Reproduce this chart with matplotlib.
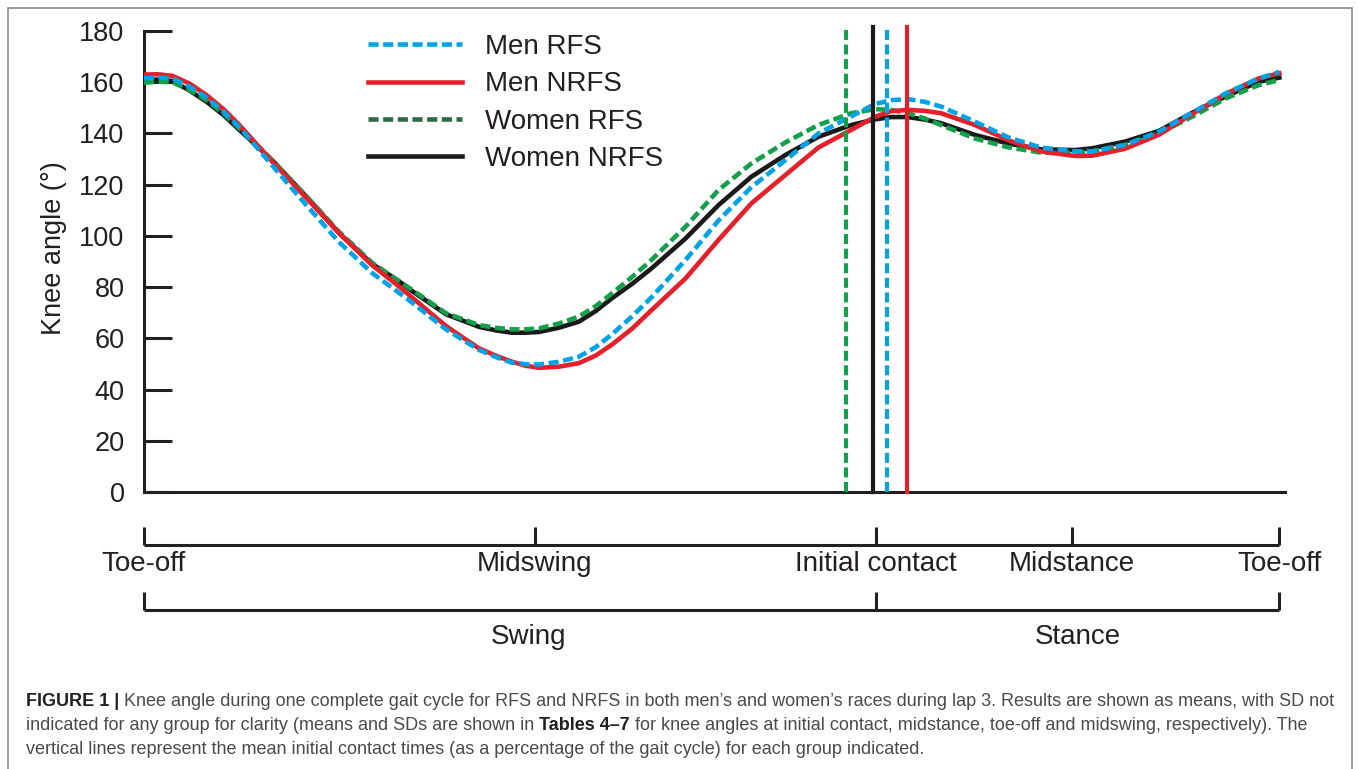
import matplotlib
matplotlib.use("Agg")
import matplotlib.pyplot as plt
from matplotlib.lines import Line2D
from matplotlib.patches import Rectangle
from matplotlib.transforms import blended_transform_factory

plt.rcParams["font.family"] = ["Liberation Sans", "DejaVu Sans"]

# Gait cycle (%) and knee angle (deg)
pct = [0, 1.2, 2.5, 4, 5.5, 7, 8.4, 11.3, 14.3, 17.2, 20.1, 22.4, 23.6,
       26.6, 29.5, 31, 32.4, 33.6, 34.8, 36.5, 38.3, 39.8, 41.2, 43, 44.7,
       47.7, 50.6, 53.5, 56.5, 59.4, 62.3, 64.4, 65.8, 67.3, 68.8, 70.2, 73.2,
       76.1, 79.0, 82.0, 83.5, 86.4, 89.4, 92.3, 95.3, 98.2, 100]

men_rfs = [161.5, 161.8, 161.5, 158.3, 154, 148.5, 142.5, 127.5, 112, 97.5, 85.5, 78, 74,
           63.5, 55.5, 52.7, 50.5, 49.9, 49.8, 50.8, 52.8, 56.6, 61.5, 68.6, 76,
           90.6, 106, 119, 129.6, 140, 146.7, 151.5, 153, 153.4, 152.3, 150.5, 144.6,
           138.5, 134.5, 133, 133, 135.5, 140.7, 148, 155.7, 161.5, 164]
men_nrfs = [163, 163.1, 162.5, 159.5, 155, 149.5, 143.3, 129, 114.8, 101, 88.5, 80.5, 76,
            64.8, 56.1, 53.2, 50.9, 49.3, 48.5, 48.9, 50.3, 53.3, 57.5, 63.8, 71,
            83.4, 98.4, 112.7, 123.8, 134.5, 141.4, 146.5, 148.7, 149.2, 148.8, 147.9, 143.3,
            137.4, 133, 131.2, 131.3, 134, 139.5, 147.5, 155.5, 161.5, 163.5]
women_rfs = [159.8, 160.2, 160, 157, 153, 147.8, 142, 129.5, 115.5, 101.5, 89.5, 82.5, 79,
             69.8, 65.2, 64.1, 63.5, 63.5, 63.9, 65.7, 68.5, 72.6, 77.5, 84, 90.6,
             103.6, 117.9, 128.3, 136.5, 143.3, 147.9, 149.5, 149.2, 147.9, 145.8, 143.3, 138,
             134.6, 132.5, 132.3, 133, 135.5, 140, 146.5, 153.7, 158.9, 160.9]
women_nrfs = [161, 161, 160.5, 156.8, 152.4, 147.2, 141.4, 129.5, 115.3, 101, 89, 82.5, 78.5,
              69.4, 64.5, 63.1, 62.2, 62.2, 62.5, 64.1, 66.5, 70.7, 75.6, 81.3, 87.3,
              99, 112, 123.1, 131.6, 138.7, 143.3, 145.5, 146.4, 146.4, 145.4, 144, 139.4,
              136.1, 133.8, 133.5, 134.2, 136.8, 141, 148, 154.5, 160.2, 161.8]

groups = ["Men RFS", "Men NRFS", "Women RFS", "Women NRFS"]
contact = [65.4, 67.2, 61.8, 64.2]   # mean initial contact (% of cycle)

y_ticks = [0, 20, 40, 60, 80, 100, 120, 140, 160, 180]
phase_pos = [0, 34.4, 64.5, 81.7, 100]
phase_labels = ["Toe-off", "Midswing", "Initial contact", "Midstance", "Toe-off"]
split_pos = [0, 64.5, 100]
split_labels = ["Swing", "Stance"]
split_label_pos = [33.9, 82.25]

INK = "#231f20"
colors = {"Men RFS": "#00a3e6", "Men NRFS": "#e5202a",
          "Women RFS": "#13a04a", "Women NRFS": "#1a1a1a"}
dashed = {"Men RFS": True, "Men NRFS": False, "Women RFS": True, "Women NRFS": False}
series = {"Men RFS": men_rfs, "Men NRFS": men_nrfs,
          "Women RFS": women_rfs, "Women NRFS": women_nrfs}

W, H = 1358, 769
fig = plt.figure(figsize=(W / 100, H / 100), dpi=100)


def fy(py):
    return 1 - py / H


ax = fig.add_axes([144 / W, fy(492), (1285 - 144) / W, (492 - 31) / H])
ax.set_xlim(0, 100.5)
ax.set_ylim(0, 180)

# curves (black at bottom, blue on top)
for z, g in enumerate(["Women NRFS", "Women RFS", "Men NRFS", "Men RFS"]):
    kw = dict(color=colors[g], lw=3.3, zorder=2 + z, solid_joinstyle="round")
    if dashed[g]:
        kw["dashes"] = (2.2, 1.0)
    ax.plot(pct, series[g], **kw)

# initial contact lines
for g, ic in zip(groups, contact):
    kw = dict(color=colors[g], lw=3.0, zorder=8, clip_on=False)
    if dashed[g]:
        kw["dashes"] = (2.4, 1.1)
    ax.axvline(ic, ymin=0, ymax=1.008, **kw)

for s in ["top", "right"]:
    ax.spines[s].set_visible(False)
for s in ["left", "bottom"]:
    ax.spines[s].set_linewidth(2.2)
    ax.spines[s].set_color(INK)
ax.set_xticks([])
ax.set_yticks(y_ticks)
ax.tick_params(axis="y", direction="in", length=20, width=2.2, pad=14,
               labelsize=19.5, colors=INK)

fig.text(54 / W, fy(248), "Knee angle (°)", rotation=90, ha="center",
         va="center", fontsize=19.5, color=INK)

# legend
handles = []
for g in groups:
    c = "#2b6a44" if g == "Women RFS" else colors[g]
    h = Line2D([], [], color=c, lw=3.3)
    if dashed[g]:
        h.set_dashes((2.2, 1.0))
    handles.append(h)
ax.legend(handles, groups, loc="upper left", bbox_to_anchor=(368 / W, fy(34)),
          bbox_transform=fig.transFigure, frameon=False, fontsize=20,
          handlelength=3.4, handletextpad=0.8, labelspacing=0.41,
          borderpad=0, borderaxespad=0, labelcolor=INK)

# gait phase scales below the axis
tr = blended_transform_factory(ax.transData, fig.transFigure)
lk = dict(transform=tr, clip_on=False, color=INK, lw=2.2, solid_capstyle="butt")
ax.plot([phase_pos[0], phase_pos[-1]], [fy(545), fy(545)], **lk)
for p, lab in zip(phase_pos, phase_labels):
    ax.plot([p, p], [fy(527), fy(545)], **lk)
    ax.text(p, fy(564), lab, transform=tr, ha="center", va="center",
            fontsize=20, color=INK)
ax.plot([split_pos[0], split_pos[-1]], [fy(610), fy(610)], **lk)
for p in split_pos:
    ax.plot([p, p], [fy(592), fy(610)], **lk)
for p, lab in zip(split_label_pos, split_labels):
    ax.text(p, fy(637), lab, transform=tr, ha="center", va="center",
            fontsize=20, color=INK)

# outer frame
fig.add_artist(Rectangle((8 / W, -0.02), (1352 - 8) / W, fy(8) + 0.02,
                         transform=fig.transFigure, fill=False,
                         ec="#8c8c8c", lw=1.2))

# caption
CAP_FS = 13.0
rend = fig.canvas.get_renderer()


def caption_line(py, runs):
    x = 26
    for s, bold in runs:
        t = fig.text(x / W, fy(py), s, fontsize=CAP_FS, ha="left", va="baseline",
                     fontweight="bold" if bold else "normal",
                     color=INK if bold else "#4a4a4a")
        x += t.get_window_extent(rend).width


caption_line(706, [("FIGURE 1 |", True),
                   (" Knee angle during one complete gait cycle for RFS and NRFS in both "
                    "men’s and women’s races during lap 3. Results are shown as means, "
                    "with SD not", False)])
caption_line(730, [("indicated for any group for clarity (means and SDs are shown in ", False),
                   ("Tables 4–7", True),
                   (" for knee angles at initial contact, midstance, toe-off and midswing, "
                    "respectively). The", False)])
caption_line(754, [("vertical lines represent the mean initial contact times (as a "
                    "percentage of the gait cycle) for each group indicated.", False)])

fig.savefig("out.png", dpi=100)
